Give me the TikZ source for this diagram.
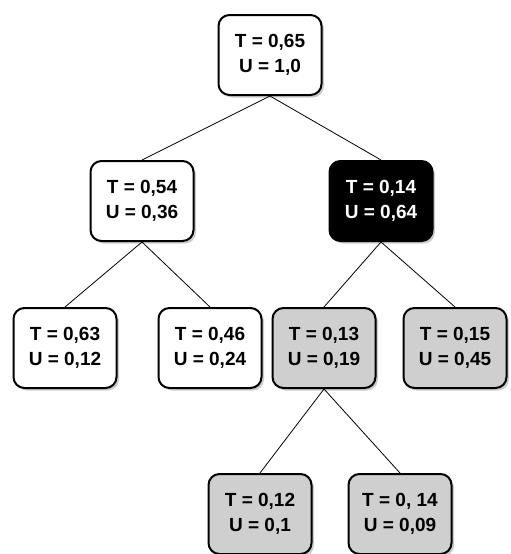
\documentclass[tikz,border=0pt]{standalone}
\usepackage{fontspec}
\setmainfont{Liberation Sans}
\usetikzlibrary{positioning,shadows}

\begin{document}
\begin{tikzpicture}[
    x=1pt, y=1pt,
    node distance=64pt and 20pt,
    tnode/.style={draw, line width=2pt, rounded corners=11pt, fill=white, minimum width=103pt, minimum height=80pt, align=center, font=\fontsize{19}{25}\selectfont\bfseries, drop shadow={shadow xshift=2.5pt, shadow yshift=-2.5pt, fill=black!40}},
    best/.style={tnode, fill=black, text=white},
    sub/.style={tnode, fill=gray!38},
    edge/.style={line width=0.8pt}
]
\useasboundingbox (0,0) rectangle (511,-554);

% --- Root ---
\node[tnode] (r) at (270,-55) {T = 0,65\\U = 1,0};

% --- Second level ---
\node[tnode, below=64pt of r, xshift=-128pt] (l) {T = 0,54\\U = 0,36};
\node[best, right=134pt of l] (m) {T = 0,14\\U = 0,64};

% --- Third level ---
\node[tnode, below=65pt of l, xshift=-77pt] (ll) {T = 0,63\\U = 0,12};
\node[tnode, right=40pt of ll] (lr) {T = 0,46\\U = 0,24};
\node[sub, right=9pt of lr] (ml) {T = 0,13\\U = 0,19};
\node[sub, right=26pt of ml] (mr) {T = 0,15\\U = 0,45};

% --- Fourth level ---
\node[sub, below=84pt of ml, xshift=-64pt] (mll) {T = 0,12\\U = 0,1};
\node[sub, right=35pt of mll] (mlr) {T = 0, 14\\U = 0,09};

\draw[edge] (r.south)--(l.north); \draw[edge] (r.south)--(m.north);
\draw[edge] (l.south)--(ll.north); \draw[edge] (l.south)--(lr.north);
\draw[edge] (m.south)--(ml.north); \draw[edge] (m.south)--(mr.north);
\draw[edge] (ml.south)--(mll.north); \draw[edge] (ml.south)--(mlr.north);
\end{tikzpicture}
\end{document}
